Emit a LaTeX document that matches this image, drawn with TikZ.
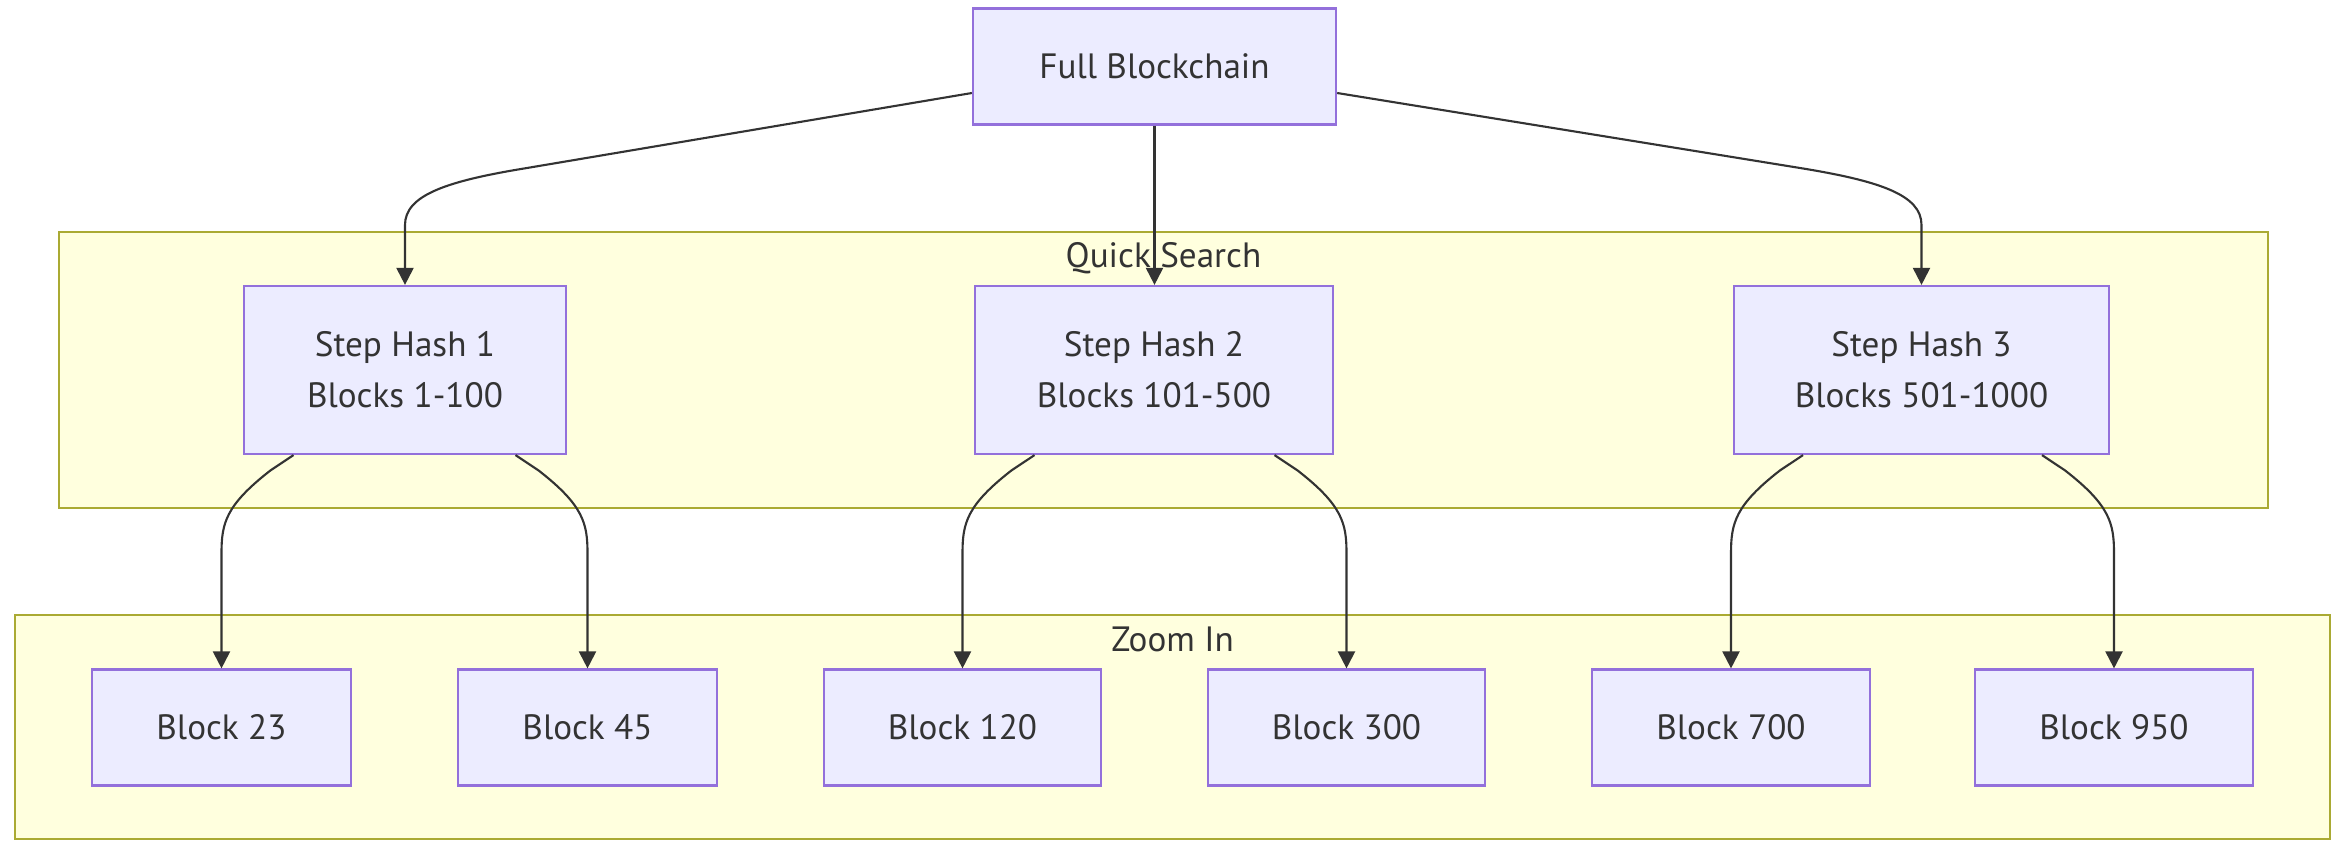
\documentclass[tikz,border=0pt]{standalone}
\usepackage{fontspec}
\setmainfont{PT Sans}
\usetikzlibrary{arrows.meta,calc}
\definecolor{boxfill}{HTML}{ECECFF}
\definecolor{boxline}{HTML}{9370DB}
\definecolor{groupfill}{HTML}{FFFFDE}
\definecolor{groupline}{HTML}{AAAA33}
\definecolor{ink}{HTML}{333333}

\begin{document}
\begin{tikzpicture}[x=0.01cm,y=-0.01cm,>={Triangle[length=0.17cm,width=0.17cm]},
    box/.style={draw=boxline,fill=boxfill,line width=0.6pt,text=ink,
      minimum height=1.16cm,align=center,font=\fontsize{10}{14.4}\selectfont},
    group/.style={draw=groupline,fill=groupfill,line width=0.6pt},
    grouplabel/.style={text=ink,anchor=base,font=\fontsize{10}{14.4}\selectfont},
    edge/.style={->,draw=ink,line width=0.6pt}]
    \useasboundingbox (0,0) rectangle (2345,852);
    % the two groups
    \node[group,minimum width=22.07cm,minimum height=2.76cm] (qs) at (1163.5,370) {};
    \node[group,minimum width=23.13cm,minimum height=2.24cm] (zi) at (1172.5,727) {};
    \node[grouplabel] (qslabel) at (1163.5,268) {Quick Search};
    \node[grouplabel] (zilabel) at (1172.5,652) {Zoom In};
    % chain and step hashes
    \node[box,minimum width=3.63cm] (fb) at (1154.5,66.5) {Full Blockchain};
    \node[box,minimum width=3.22cm,minimum height=1.68cm] (sh1) at (405,370) {Step Hash 1\\Blocks 1-100};
    \node[box,minimum width=3.58cm,minimum height=1.68cm] (sh2) at (1154,370) {Step Hash 2\\Blocks 101-500};
    \node[box,minimum width=3.75cm,minimum height=1.68cm] (sh3) at (1921.5,370) {Step Hash 3\\Blocks 501-1000};
    % single blocks
    \node[box,minimum width=2.59cm] (b23) at (221.5,727.5) {Block 23};
    \node[box,minimum width=2.59cm] (b45) at (587.5,727.5) {Block 45};
    \node[box,minimum width=2.77cm] (b120) at (962.5,727.5) {Block 120};
    \node[box,minimum width=2.77cm] (b300) at (1346.5,727.5) {Block 300};
    \node[box,minimum width=2.77cm] (b700) at (1731,727.5) {Block 700};
    \node[box,minimum width=2.77cm] (b950) at (2114,727.5) {Block 950};
    % edges
    \draw[edge] (fb.south) -- (fb.south |- sh2.north);
    \draw[edge] ([yshift=-0.265cm]fb.west) -- (527,168)
      .. controls (447,181) and (405,195) .. (405,225) -- (sh1.north);
    \draw[edge] ([yshift=-0.265cm]fb.east) -- (1800,168)
      .. controls (1880,181) and (1921.5,195) .. (1921.5,225) -- (sh3.north);
    \foreach \src/\dst/\s in {sh1/b23/1,sh1/b45/-1,sh2/b120/1,sh2/b300/-1,sh3/b700/1,sh3/b950/-1}
    {
        \draw[edge] ($(\dst.north |- \src.south)+({72*\s},0)$) -- ($(\dst.north)+({49*\s},-198)$)
          .. controls ($(\dst.north)+({4*\s},-163)$) and ($(\dst.north)+(0,-145)$)
          .. ($(\dst.north)+(0,-115)$) -- (\dst.north);
    }
\end{tikzpicture}
\end{document}
